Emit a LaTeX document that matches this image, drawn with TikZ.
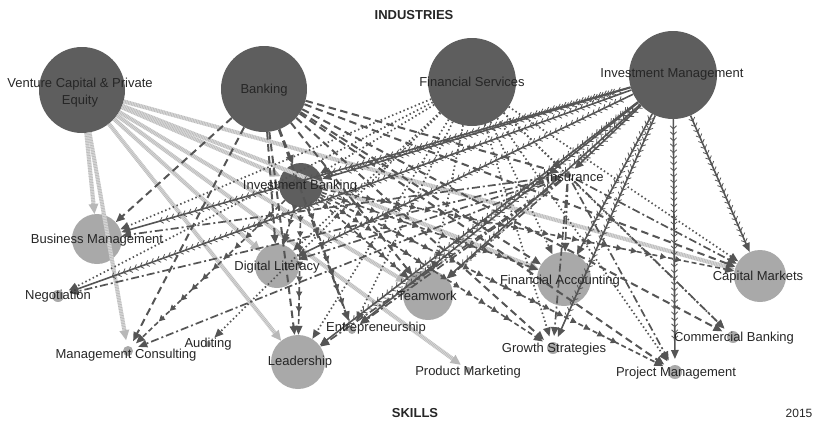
\documentclass[tikz,border=0pt]{standalone}
\usepackage{fontspec}
\setmainfont{Liberation Sans}
\usetikzlibrary{arrows.meta,decorations.markings}

\definecolor{indfill}{HTML}{5E5E5E}
\definecolor{sklfill}{HTML}{A9A9A9}
\definecolor{edgec}{HTML}{555555}
\definecolor{vclight}{HTML}{DADADA}
\definecolor{vcdark}{HTML}{B8B8B8}
\definecolor{txt}{HTML}{262626}

\begin{document}
\begin{tikzpicture}[x=1pt,y=-1pt,
  indnode/.style={circle,fill=indfill,inner sep=0pt,minimum size=#1},
  sknode/.style={circle,fill=sklfill,inner sep=0pt,minimum size=#1},
  smallnode/.style={circle,fill=sklfill,inner sep=0pt,minimum size=#1,outer sep=6pt},
  lbl/.style={font=\fontsize{13}{17}\selectfont,text=txt,inner sep=0pt,align=center},
  ttl/.style={font=\bfseries\fontsize{13}{15}\selectfont,text=txt,inner sep=0pt},
  tip/.style={-{Triangle[length=9pt,width=7.5pt]}},
  % venture capital: light hatched band
  vcE/.style={draw=vclight,line width=4pt,
    -{Triangle[length=10pt,width=10pt,fill=vcdark,line width=0pt]},
    postaction={draw=vcdark,line width=4pt,dash pattern=on 0.6pt off 1pt,-,shorten >=9pt}},
  % banking: long dashes
  bkE/.style={draw=edgec,line width=2pt,dash pattern=on 7.5pt off 4.5pt,tip},
  % financial services: dots
  fsE/.style={draw=edgec,line width=1.7pt,dash pattern=on 1.5pt off 2.6pt,tip},
  % investment management: solid with chevron ticks
  imE/.style={draw=edgec,line width=1.6pt,tip,
    postaction={decorate,decoration={markings,
      mark=between positions 0.04 and 0.93 step 6pt with
      {\draw[edgec,line width=0.8pt,solid,-] (-3pt,3.2pt)--(0,0)--(-3pt,-3.2pt);}}}},
  % investment banking: dashes with small arrowheads
  ibE/.style={draw=edgec,line width=1.6pt,dash pattern=on 5pt off 3pt,tip,
    postaction={decorate,decoration={markings,
      mark=between positions 0.12 and 0.9 step 15pt with
      {\arrow[edgec]{Triangle[length=6pt,width=6pt]}}}}},
  % insurance: dash-dot
  insE/.style={draw=edgec,line width=1.7pt,dash pattern=on 8pt off 3pt on 2pt off 3pt,tip}
]
\useasboundingbox (0,0) rectangle (826,421);

% industries
\node[indnode=86] (vc) at (82,90) {};
\node[indnode=86] (bank) at (264,89) {};
\node[indnode=88] (fs) at (472,82) {};
\node[indnode=88] (im) at (673,75) {};
\node[indnode=44] (ib) at (301,185) {};
\node[circle,fill=indfill,inner sep=0pt,minimum size=6,outer sep=6pt] (ins) at (568,175) {};

% skills
\node[sknode=50] (bm) at (97,239) {};
\node[smallnode=12] (neg) at (58,296) {};
\node[smallnode=10] (mc) at (128,351) {};
\node[smallnode=6] (aud) at (208,344) {};
\node[sknode=44] (dl) at (277,266) {};
\node[sknode=54] (lead) at (298,362) {};
\node[smallnode=8] (ent) at (352,330) {};
\node[sknode=50] (team) at (428,295) {};
\node[smallnode=6] (prodm) at (468,370) {};
\node[sknode=54] (fa) at (564,279) {};
\node[smallnode=12] (gs) at (553,348) {};
\node[sknode=52] (cm) at (760,276) {};
\node[smallnode=12] (cb) at (733,337) {};
\node[smallnode=14] (projm) at (675,372) {};

% venture capital & private equity
\foreach \t in {bm,mc,dl,lead,team,prodm,fa,cm,ib}
  \draw[vcE] (vc) -- (\t);

% banking
\foreach \t in {bm,mc,ib,dl,lead,ent,team,fa,gs,projm,cb,cm,ins}
  \draw[bkE] (bank) -- (\t);

% financial services
\foreach \t in {bm,neg,aud,dl,ib,lead,ent,team,fa,gs,cm,cb,projm,ins}
  \draw[fsE] (fs) -- (\t);

% investment banking
\foreach \t in {mc,dl,lead,ent,team,fa,gs,projm,cm}
  \draw[ibE] (ib) -- (\t);

% insurance
\foreach \t in {bm,neg,mc,dl,lead,ent,team,fa,gs,projm,cm,cb}
  \draw[insE] (ins) -- (\t);

% investment management
\foreach \t in {bm,neg,ib,dl,lead,ent,team,fa,gs,projm,cm,ins}
  \draw[imE] (im) -- (\t);

% labels
\node[lbl] (l-vc) at (80,93) {Venture Capital \& Private\\Equity};
\node[lbl] (l-bank) at (264,90) {Banking};
\node[lbl] (l-fs) at (472,82) {Financial Services};
\node[lbl] (l-im) at (672,74) {Investment Management};
\node[lbl] (l-ib) at (300,186) {Investment Banking};
\node[lbl] (l-ins) at (575,177) {Insurance};
\node[lbl] (l-bm) at (97,240) {Business Management};
\node[lbl] (l-neg) at (58,296) {Negotiation};
\node[lbl] (l-mc) at (126,355) {Management Consulting};
\node[lbl] (l-aud) at (208,344) {Auditing};
\node[lbl] (l-dl) at (277,267) {Digital Literacy};
\node[lbl] (l-lead) at (300,362) {Leadership};
\node[lbl] (l-ent) at (376,328) {Entrepreneurship};
\node[lbl] (l-team) at (427,296) {Teamwork};
\node[lbl] (l-prodm) at (468,372) {Product Marketing};
\node[lbl] (l-fa) at (560,281) {Financial Accounting};
\node[lbl] (l-gs) at (554,349) {Growth Strategies};
\node[lbl] (l-cm) at (758,277) {Capital Markets};
\node[lbl] (l-cb) at (734,338) {Commercial Banking};
\node[lbl] (l-projm) at (676,373) {Project Management};

% titles
\node[ttl] (t-ind) at (414,15) {INDUSTRIES};
\node[ttl] (t-sk) at (415,413) {SKILLS};
\node[font=\fontsize{12}{14}\selectfont,text=txt,inner sep=0pt] (t-year) at (799,413) {2015};
\end{tikzpicture}
\end{document}
